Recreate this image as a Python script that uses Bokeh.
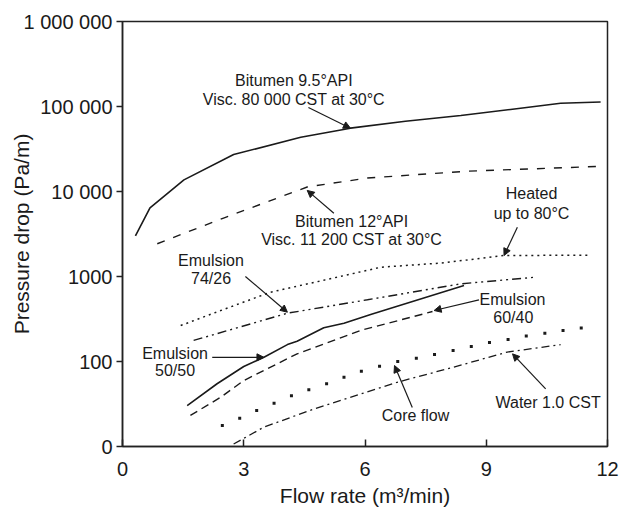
from bokeh.plotting import figure
from bokeh.models import FixedTicker, Arrow, NormalHead, ColumnDataSource
from bokeh.core.properties import value
from bokeh.embed import file_html
from bokeh.resources import INLINE

FONT = "Liberation Sans"
INK = "#1a1a1a"

# ---- data (flow rate m3/min, pressure drop Pa/m) ----
flow_bit95 = [0.32, 0.68, 1.52, 2.75, 4.41, 5.64, 7.0, 8.37, 9.6, 10.84, 11.83]
dp_bit95 = [3000, 6400, 13700, 27200, 43500, 55600, 67000, 78300, 92300, 109000, 113000]

flow_bit12 = [0.86, 2.5, 4.57, 6.06, 8.5, 11.75]
dp_bit12 = [2430, 4870, 11300, 14400, 17300, 19700]

flow_heated = [1.44, 2.5, 3.66, 5.0, 6.39, 7.9, 9.44, 11.58]
dp_heated = [265, 409, 653, 909, 1285, 1442, 1766, 1780]

flow_em7426 = [1.76, 4.08, 6.06, 8.37, 10.22]
dp_em7426 = [177, 370, 532, 820, 982]

flow_em5050 = [1.60, 2.34, 3.00, 3.50, 4.08, 4.32, 4.98, 5.48, 6.14, 8.45]
dp_em5050 = [30.3, 54.7, 87.3, 112, 158, 173, 249, 282, 357, 783]

flow_em6040 = [1.68, 2.43, 3.00, 4.32, 5.89, 7.67]
dp_em6040 = [23.2, 38, 59.7, 123, 232, 387]

# core flow: individual measured points (drawn as dots)
flow_core = [2.47, 2.90, 3.32, 3.75, 4.18, 4.61, 5.05, 5.48, 5.91, 6.36, 6.81,
             7.27, 7.72, 8.18, 8.63, 9.08, 9.54, 9.99, 10.45, 10.90, 11.35]
dp_core = [17.7, 21.5, 26.5, 32.3, 39.5, 46.5, 54.7, 65.4, 76.9, 88, 100,
           109, 121, 135, 150, 167, 182, 199, 215, 232, 247]

flow_water = [2.75, 3.5, 4.74, 6.8, 8.2, 9.52, 10.84]
dp_water = [10.7, 16.9, 27.7, 57, 86, 129, 158]

x_ticks = [0, 3, 6, 9, 12]
y_ticks = [10, 100, 1000, 10000, 100000, 1000000]
y_tick_labels = ["0", "100", "1000", "10 000", "100 000", "1 000 000"]

# annotation texts (line by line)
note_text = ["Bitumen 9.5°API", "Visc. 80 000 CST at 30°C",
             "Bitumen 12°API", "Visc. 11 200 CST at 30°C",
             "Heated", "up to 80°C",
             "Emulsion", "74/26",
             "Emulsion", "50/50",
             "Emulsion", "60/40",
             "Core flow", "Water 1.0 CST"]
note_x = [4.24, 4.24, 5.67, 5.67, 10.12, 10.12, 2.19, 2.19, 1.30, 1.30, 9.65, 9.67, 7.25, 10.53]
note_y = [202000, 121000, 4440, 2720, 9460, 5510, 1542, 940, 123, 78.3, 532, 327, 23.2, 33.2]

arrow_x0 = [4.60, 5.23, 9.77, 3.04, 2.22, 8.82, 7.17, 10.47]
arrow_y0 = [97200, 5560, 3802, 1000, 112, 532, 28.8, 47.7]
arrow_x1 = [5.64, 4.57, 9.44, 4.08, 3.50, 7.71, 6.73, 9.65]
arrow_y1 = [55600, 10300, 1766, 380, 112, 398, 89.7, 123]

p = figure(width=619, height=509, x_range=(0, 12), y_range=(10, 1e6),
           y_axis_type="log", output_backend="svg", toolbar_location=None,
           min_border_left=122, min_border_top=21, min_border_right=12,
           min_border_bottom=63)
p.background_fill_color = "white"
p.border_fill_color = "white"
p.grid.visible = False
p.outline_line_color = "#222222"
p.outline_line_width = 1.5

# axes
p.xaxis.ticker = FixedTicker(ticks=x_ticks)
p.yaxis.ticker = FixedTicker(ticks=y_ticks)
p.yaxis.major_label_overrides = {t: l for t, l in zip(y_ticks, y_tick_labels)}
for ax in (p.xaxis[0], p.yaxis[0]):
    ax.axis_line_color = "#222222"
    ax.axis_line_width = 1.5
    ax.major_tick_line_color = "#222222"
    ax.major_tick_line_width = 1.5
    ax.minor_tick_line_color = None
    ax.major_label_text_font = FONT
    ax.major_label_text_font_size = "20px"
    ax.major_label_text_color = INK
    ax.axis_label_text_font = FONT
    ax.axis_label_text_font_size = "21px"
    ax.axis_label_text_font_style = "normal"
    ax.axis_label_text_color = INK

p.xaxis.major_tick_in = 7
p.xaxis.major_tick_out = 0
p.xaxis.major_label_standoff = 15
p.xaxis.axis_label = "Flow rate (m³/min)"
p.xaxis.axis_label_standoff = 5

p.yaxis.major_tick_in = 0
p.yaxis.major_tick_out = 6
p.yaxis.major_label_standoff = 4
p.yaxis.axis_label = "Pressure drop (Pa/m)"
p.yaxis.axis_label_standoff = -12

# curves
p.line(flow_bit95, dp_bit95, line_color=INK, line_width=1.6)
p.line(flow_bit12, dp_bit12, line_color=INK, line_width=1.4, line_dash="8 9")
p.line(flow_heated, dp_heated, line_color=INK, line_width=1.5, line_dash="2 4")
p.line(flow_em7426, dp_em7426, line_color=INK, line_width=1.4, line_dash="9 4 2 4 2 4")
p.line(flow_em5050, dp_em5050, line_color=INK, line_width=1.6)
p.line(flow_em6040, dp_em6040, line_color=INK, line_width=1.4, line_dash="8 5")
p.scatter(flow_core, dp_core, marker="square", size=3.0, fill_color=INK, line_color=None)
p.line(flow_water, dp_water, line_color=INK, line_width=1.3, line_dash="8 4 2 4")

# annotations
p.text(x=note_x, y=note_y, text=note_text, text_font=value(FONT),
       text_font_size="16px", text_align="center", text_baseline="middle",
       text_color=INK)

arrows = ColumnDataSource(dict(x0=arrow_x0, y0=arrow_y0, x1=arrow_x1, y1=arrow_y1))
p.add_layout(Arrow(source=arrows, x_start="x0", y_start="y0", x_end="x1", y_end="y1",
                   line_color=INK, line_width=1.2,
                   end=NormalHead(size=7, fill_color=INK, line_color=INK, line_width=1)))

open("out.html", "w").write(file_html(p, INLINE))
